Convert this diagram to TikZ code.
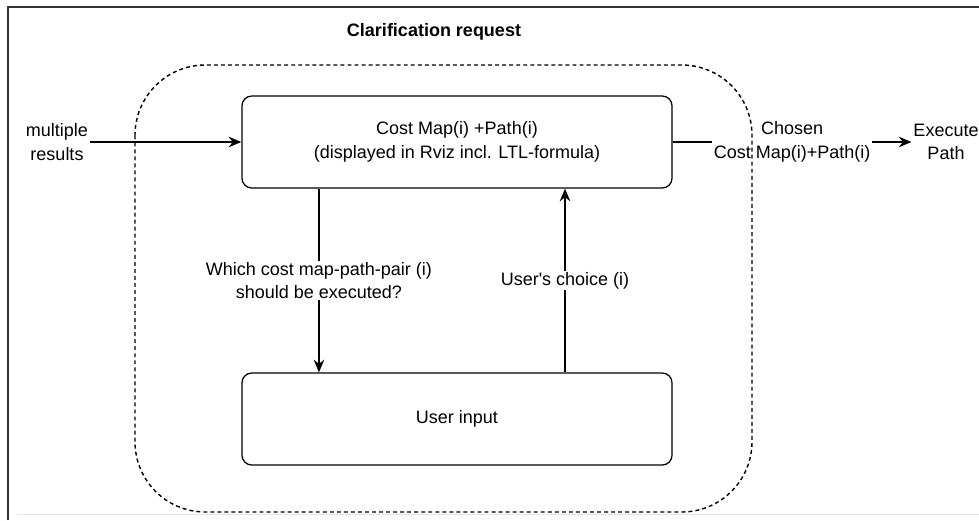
\documentclass[tikz,border=0pt]{standalone}
\usepackage{fontspec}
\setmainfont{Liberation Sans}
\usetikzlibrary{arrows.meta}

\begin{document}
\begin{tikzpicture}[x=0.025cm, y=-0.025cm, line width=0.9pt,
    font=\fontsize{12.8}{16.8}\selectfont,
    caixa/.style={draw, rounded corners=7pt, align=center,
        minimum width=10.75cm, minimum height=2.3cm},
    texto/.style={align=center, inner sep=1pt},
    rotulo/.style={fill=white, align=center, inner sep=1pt},
    seta/.style={-{Stealth[length=9pt, width=7.5pt]}}]
    \useasboundingbox (0,0) rectangle (979,520);
    % moldura da captura
    \draw[line width=1.3pt, black!80] (8,520) -- (8,7) -- (979,7);
    \draw[black!10, line width=0.6pt] (17,514) -- (979,514);
    % titulo do pedido de esclarecimento
    \node[font=\fontsize{12.8}{16.8}\selectfont\bfseries] (titulo) at (434,32) {Clarification request};
    % caixas
    \node[caixa] (mapa) at (457,142) {Cost Map(i) +Path(i)\\(displayed in Rviz incl. LTL-formula)};
    \node[caixa] (entrada) at (457,419) {User input};
    % entrada e saida
    \node[texto] (multi) at (57,142) {multiple\\results};
    \node[texto] (exec) at (946,142) {Execute\\Path};
    % ligacoes
    \draw[seta] (multi) -- (mapa);
    \draw[seta] (mapa) -- node[rotulo] {Chosen\\Cost Map(i)+Path(i)} (exec);
    \draw[seta] ([xshift=-3.45cm]mapa.south) -- node[rotulo] {Which cost map-path-pair (i)\\should be executed?} ([xshift=-3.45cm]entrada.north);
    \draw[seta] ([xshift=2.7cm]entrada.north) -- node[rotulo] {User\textquotesingle s choice (i)} ([xshift=2.7cm]mapa.south);
    % contorno tracejado (por cima dos rotulos)
    \draw[line width=1pt, dash pattern=on 2.8pt off 2.2pt, rounded corners=50pt] (135,65) rectangle (752,512);
\end{tikzpicture}
\end{document}
